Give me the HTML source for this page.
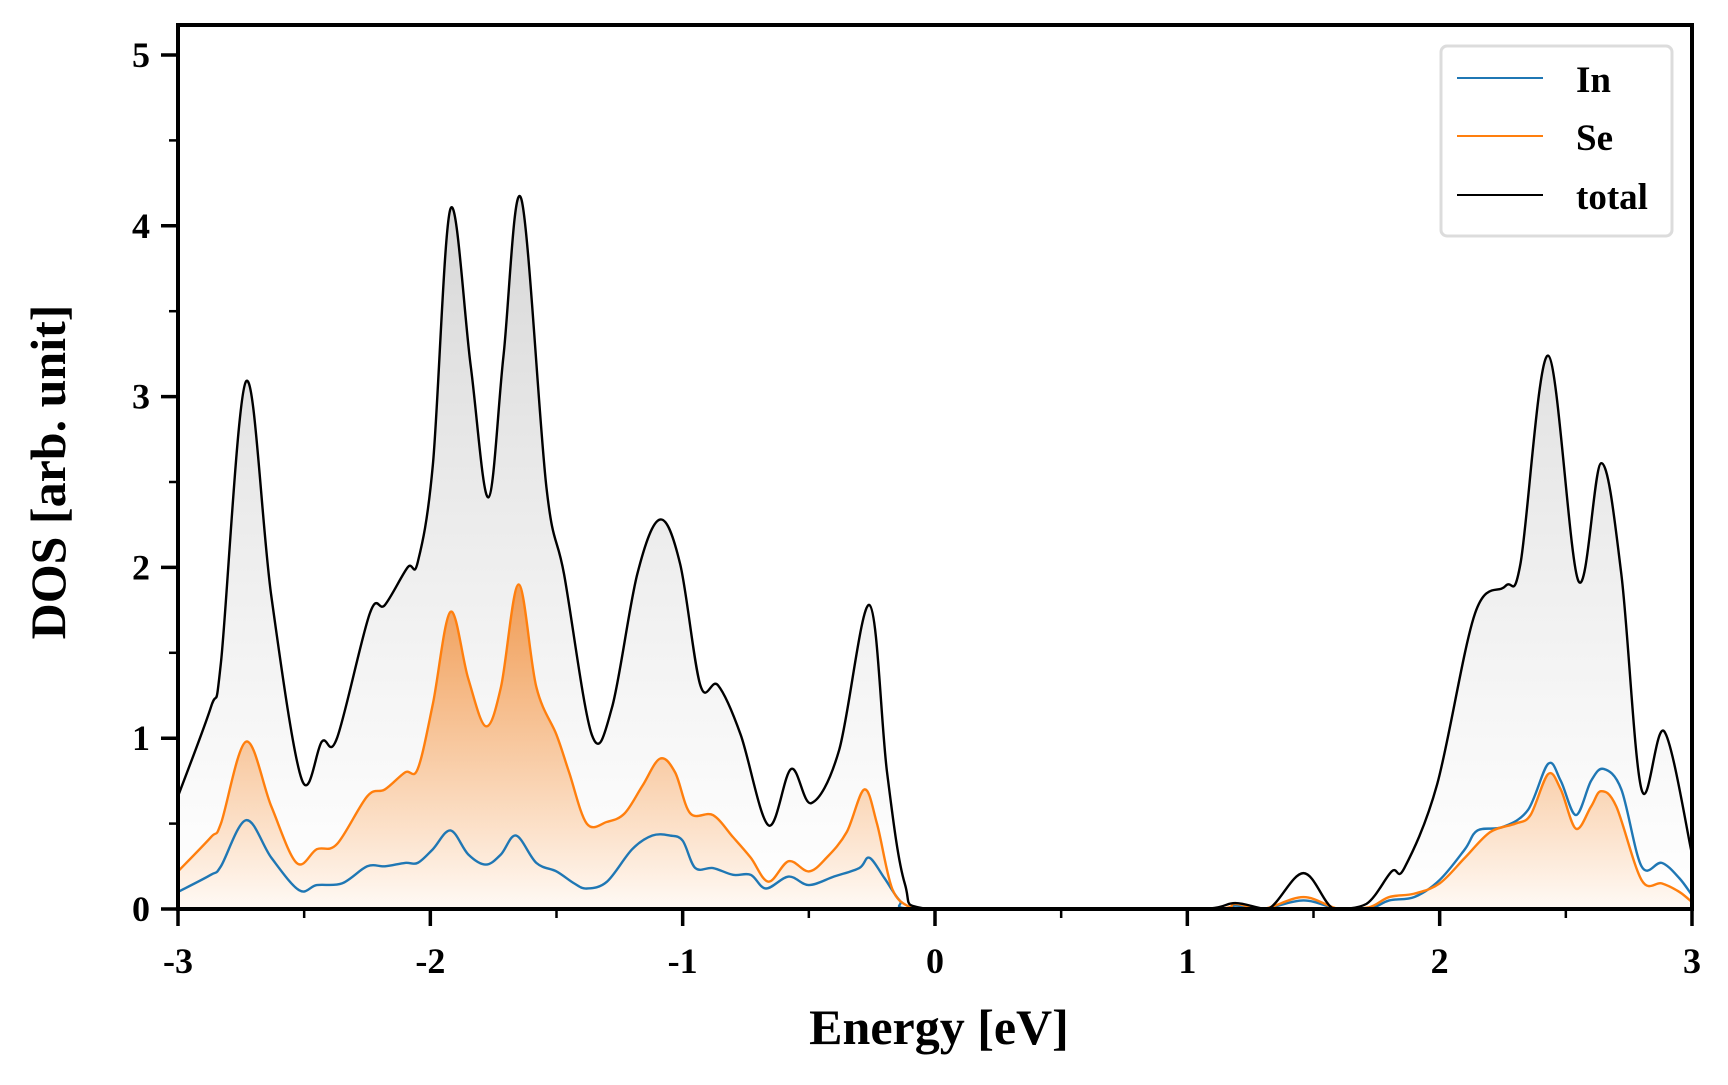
<!DOCTYPE html>
<html><head><meta charset="utf-8"><style>
html,body{margin:0;padding:0;background:#fff}
svg text{font-family:"Liberation Serif",serif;font-weight:bold;fill:#000}
</style></head><body>
<svg id="chart" width="1728" height="1080" xmlns="http://www.w3.org/2000/svg">
<defs>
<linearGradient id="gTot" gradientUnits="userSpaceOnUse" x1="0" y1="195" x2="0" y2="909">
<stop offset="0" stop-color="#cfcfcf" stop-opacity="0.85"/><stop offset="1" stop-color="#ffffff" stop-opacity="0.6"/></linearGradient>
<linearGradient id="gSe" gradientUnits="userSpaceOnUse" x1="0" y1="580" x2="0" y2="909">
<stop offset="0" stop-color="#f07f20" stop-opacity="0.75"/><stop offset="1" stop-color="#ff7f0e" stop-opacity="0.04"/></linearGradient>
<clipPath id="clip"><rect x="178" y="25" width="1514" height="884"/></clipPath>
</defs>
<g id="plot" clip-path="url(#clip)"></g>
<g id="axes"></g>
<g>
<rect x="1441" y="46" width="231" height="190" rx="6" fill="#fff" fill-opacity="0.9" stroke="#dcdcdc" stroke-width="3"/>
<line x1="1457" y1="78" x2="1543" y2="78" stroke="#1f77b4" stroke-width="2"/>
<text x="1576" y="92" font-size="37">In</text>
<line x1="1457" y1="136" x2="1543" y2="136" stroke="#ff7f0e" stroke-width="2"/>
<text x="1576" y="150" font-size="37">Se</text>
<line x1="1457" y1="195" x2="1543" y2="195" stroke="#000" stroke-width="2"/>
<text x="1576" y="209" font-size="37">total</text>
</g>
<text x="939" y="1044" font-size="50" text-anchor="middle">Energy [eV]</text>
<text transform="translate(65,472) rotate(-90)" font-size="50" text-anchor="middle">DOS [arb. unit]</text>
</svg>
<script>
const totE=[-3,-2.87,-2.83,-2.73,-2.63,-2.51,-2.43,-2.37,-2.24,-2.18,-2.09,-2.05,-1.99,-1.92,-1.84,-1.77,-1.71,-1.64,-1.54,-1.47,-1.36,-1.28,-1.18,-1.09,-1.01,-0.93,-0.86,-0.77,-0.66,-0.57,-0.49,-0.38,-0.26,-0.19,-0.12,-0.03,0.5,1.05,1.19,1.32,1.46,1.58,1.71,1.81,1.86,1.99,2.14,2.26,2.32,2.43,2.55,2.64,2.72,2.8,2.89,3];
const totV=[0.66,1.18,1.44,3.09,1.83,0.76,0.98,1.0,1.73,1.78,2.0,2.03,2.6,4.1,3.18,2.41,3.24,4.16,2.47,1.96,1.02,1.18,1.96,2.28,2.02,1.31,1.31,1.02,0.49,0.82,0.62,0.93,1.78,0.8,0.15,0,0,0,0.035,0,0.21,0,0.03,0.22,0.24,0.73,1.73,1.89,2.02,3.24,1.92,2.61,1.96,0.7,1.04,0.32];
const seE=[-3,-2.87,-2.83,-2.73,-2.63,-2.53,-2.45,-2.37,-2.25,-2.18,-2.1,-2.05,-1.99,-1.92,-1.85,-1.78,-1.72,-1.65,-1.58,-1.5,-1.45,-1.38,-1.3,-1.23,-1.16,-1.09,-1.03,-0.97,-0.88,-0.8,-0.73,-0.66,-0.58,-0.5,-0.43,-0.35,-0.28,-0.23,-0.17,-0.1,-0.05,0.5,1.1,1.19,1.3,1.46,1.6,1.72,1.8,1.9,2,2.1,2.2,2.3,2.36,2.43,2.48,2.54,2.6,2.64,2.7,2.8,2.88,2.95,3];
const seV=[0.22,0.42,0.5,0.98,0.6,0.27,0.35,0.38,0.66,0.7,0.8,0.82,1.2,1.74,1.35,1.07,1.3,1.9,1.3,1.02,0.8,0.5,0.51,0.56,0.72,0.88,0.8,0.56,0.55,0.42,0.3,0.16,0.28,0.22,0.3,0.45,0.7,0.5,0.12,0.01,0,0,0,0.03,0,0.07,0,0.01,0.07,0.09,0.15,0.3,0.45,0.5,0.55,0.79,0.7,0.47,0.6,0.69,0.6,0.17,0.15,0.1,0.04];
const inE=[-3,-2.87,-2.83,-2.73,-2.63,-2.52,-2.45,-2.35,-2.25,-2.18,-2.1,-2.05,-1.99,-1.92,-1.85,-1.78,-1.72,-1.66,-1.58,-1.5,-1.43,-1.38,-1.3,-1.2,-1.12,-1.05,-1.0,-0.95,-0.88,-0.8,-0.73,-0.67,-0.58,-0.5,-0.4,-0.3,-0.26,-0.2,-0.14,-0.08,0.5,1.1,1.19,1.3,1.46,1.6,1.72,1.8,1.9,2,2.1,2.15,2.25,2.35,2.43,2.48,2.54,2.6,2.65,2.72,2.8,2.88,2.95,3];
const inV=[0.1,0.2,0.25,0.52,0.3,0.11,0.14,0.15,0.25,0.25,0.27,0.27,0.35,0.46,0.32,0.26,0.32,0.43,0.27,0.22,0.15,0.12,0.16,0.35,0.43,0.43,0.4,0.24,0.24,0.2,0.2,0.12,0.19,0.14,0.19,0.24,0.3,0.18,0.05,0,0,0,0.02,0,0.05,0,0,0.05,0.07,0.17,0.35,0.46,0.48,0.58,0.85,0.75,0.55,0.75,0.82,0.7,0.25,0.27,0.18,0.08];
const xTicks=[-3,-2,-1,0,1,2,3];
const yTicks=[0,1,2,3,4,5];

const X0=178,X1=1692,Y0=909,YTOP=55;
const sx=e=>X0+(e+3)/6*(X1-X0);
const sy=v=>Y0-v/5*(Y0-YTOP);
const NS='http://www.w3.org/2000/svg';
function mk(tag,attrs,parent){const el=document.createElementNS(NS,tag);for(const k in attrs)el.setAttribute(k,attrs[k]);parent.appendChild(el);return el;}
function curve(E,V){
  const p=E.map((e,i)=>[sx(e),sy(V[i])]);
  let d='M'+p[0][0]+','+p[0][1];
  for(let i=0;i<p.length-1;i++){
    const a=p[Math.max(i-1,0)],b=p[i],c=p[i+1],q=p[Math.min(i+2,p.length-1)];
    const t=0.5/3;
    let c1y=b[1]+(c[1]-a[1])*t,c2y=c[1]-(q[1]-b[1])*t;
    c1y=Math.min(c1y,Y0);c2y=Math.min(c2y,Y0);
    d+=' C'+(b[0]+(c[0]-a[0])*t)+','+c1y+' '+(c[0]-(q[0]-b[0])*t)+','+c2y+' '+c[0]+','+c[1];
  }
  return d;
}
const plot=document.getElementById('plot');
const tp=curve(totE,totV),sp=curve(seE,seV),ip=curve(inE,inV);
let el;
el=mk('path',{d:tp+' L'+sx(3)+','+Y0+' L'+sx(-3)+','+Y0+' Z',fill:'url(#gTot)',stroke:'none'},plot);


el=mk('path',{d:sp+' L'+sx(3)+','+Y0+' L'+sx(-3)+','+Y0+' Z',fill:'url(#gSe)',stroke:'none'},plot);


el=mk('path',{d:ip,fill:'none',stroke:'#1f77b4','stroke-width':2.4},plot);


el=mk('path',{d:sp,fill:'none',stroke:'#ff7f0e','stroke-width':2.4},plot);


el=mk('path',{d:tp,fill:'none',stroke:'#000','stroke-width':2.4},plot);



const axes=document.getElementById('axes');
el=mk('rect',{x:X0,y:25,width:X1-X0,height:Y0-25,fill:'none',stroke:'#000','stroke-width':4},axes);


xTicks.forEach(t=>{
  el=mk('line',{x1:sx(t),x2:sx(t),y1:Y0,y2:Y0+17,stroke:'#000','stroke-width':3.5},axes);
  
  
  el=mk('text',{x:sx(t),y:973,'font-size':36,'text-anchor':'middle'},axes);
  el.textContent=String(t);
  
  
  if(t<3){el=mk('line',{x1:sx(t+0.5),x2:sx(t+0.5),y1:Y0,y2:Y0+9,stroke:'#000','stroke-width':2.5},axes);
  
  }
});
yTicks.forEach(t=>{
  el=mk('line',{x1:X0-17,x2:X0,y1:sy(t),y2:sy(t),stroke:'#000','stroke-width':3.5},axes);
  
  
  el=mk('text',{x:X0-28,y:sy(t)+12,'font-size':36,'text-anchor':'end'},axes);
  el.textContent=String(t);
  
  
  if(t<5){el=mk('line',{x1:X0-9,x2:X0,y1:sy(t+0.5),y2:sy(t+0.5),stroke:'#000','stroke-width':2.5},axes);
  
  }
});
</script>
</body></html>
